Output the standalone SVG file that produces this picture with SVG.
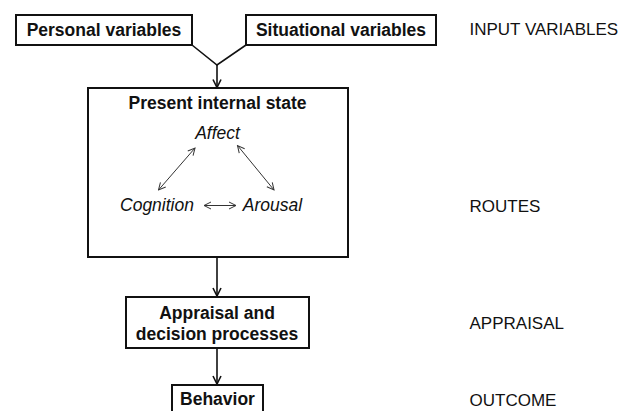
<svg xmlns="http://www.w3.org/2000/svg" width="634" height="411" viewBox="0 0 634 411">
<style>
.box{fill:#fff;stroke:#111;stroke-width:2}
.b{font-family:"Liberation Sans",Arial,sans-serif;font-weight:bold;font-size:17.5px;fill:#111;text-anchor:middle}
.i{font-family:"Liberation Sans",Arial,sans-serif;font-style:italic;font-size:17.5px;fill:#111;text-anchor:middle}
.lab{font-family:"Liberation Sans",Arial,sans-serif;font-size:17px;fill:#111}
.c{fill:none;stroke:#111;stroke-width:1.6}
.t{fill:none;stroke:#333;stroke-width:1}
</style>
<defs>
<marker id="ah" markerWidth="10" markerHeight="10" refX="9" refY="5" orient="auto" markerUnits="userSpaceOnUse">
<path d="M1,1 L9,5 L1,9" fill="none" stroke="#111" stroke-width="1.6"/>
</marker>
<marker id="sh" markerWidth="10" markerHeight="10" refX="9" refY="5" orient="auto-start-reverse" markerUnits="userSpaceOnUse">
<path d="M2,1.5 L9,5 L2,8.5" fill="none" stroke="#333" stroke-width="1"/>
</marker>
</defs>
<g id="personal">
<rect class="box" x="16" y="15" width="176" height="30"/>
<text class="b" x="104" y="36">Personal variables</text>
</g>
<g id="situational">
<rect class="box" x="246" y="15" width="190" height="30"/>
<text class="b" x="341" y="36">Situational variables</text>
</g>
<g id="state">
<rect class="box" x="88" y="88" width="260" height="169"/>
<text class="b" x="217.5" y="108.5">Present internal state</text>
<text class="i" x="217.5" y="138.5">Affect</text>
<text class="i" x="157" y="210.5">Cognition</text>
<text class="i" x="272.5" y="210.5">Arousal</text>
<g id="inner-connectors">
<line class="t" x1="195" y1="148" x2="158.5" y2="190" marker-start="url(#sh)" marker-end="url(#sh)"/>
<line class="t" x1="237.5" y1="145.5" x2="274" y2="190" marker-start="url(#sh)" marker-end="url(#sh)"/>
<line class="t" x1="204" y1="205.5" x2="236" y2="205.5" marker-start="url(#sh)" marker-end="url(#sh)"/>
</g>
</g>
<g id="appraisal">
<rect class="box" x="126" y="297" width="183" height="51"/>
<text class="b" x="217" y="318.5">Appraisal and</text>
<text class="b" x="217" y="339.5">decision processes</text>
</g>
<g id="behavior">
<rect class="box" x="172" y="385" width="91" height="40"/>
<text class="b" x="217.5" y="405">Behavior</text>
</g>
<g id="connectors">
<polyline class="c" points="192,45 217,65 246,45"/>
<line class="c" x1="217" y1="65" x2="217" y2="87.5" marker-end="url(#ah)"/>
<line class="c" x1="217" y1="257" x2="217" y2="296" marker-end="url(#ah)"/>
<line class="c" x1="217" y1="348" x2="217" y2="384" marker-end="url(#ah)"/>
</g>
<g id="labels">
<text class="lab" x="469.5" y="35">INPUT VARIABLES</text>
<text class="lab" x="469.5" y="211.5">ROUTES</text>
<text class="lab" x="469.5" y="328.5">APPRAISAL</text>
<text class="lab" x="469.5" y="406">OUTCOME</text>
</g>
</svg>
